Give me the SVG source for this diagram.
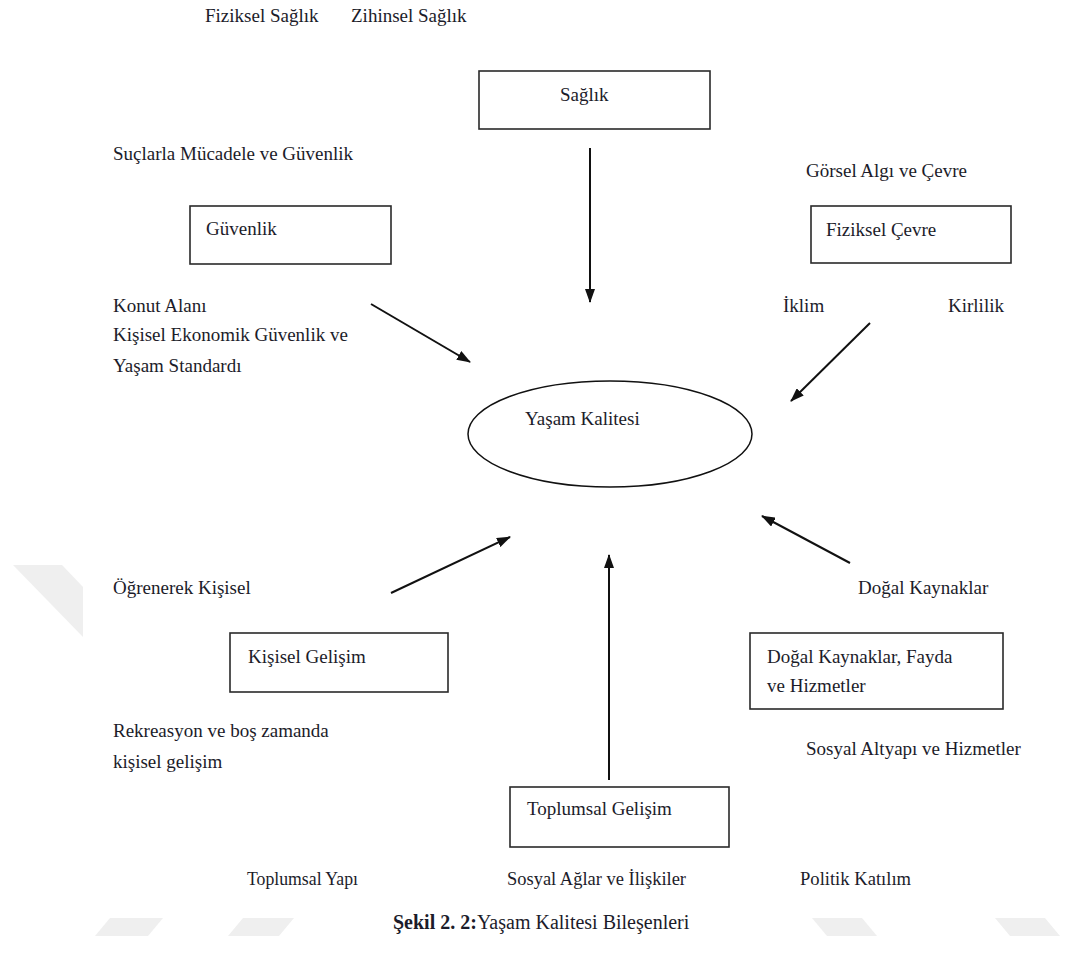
<svg xmlns="http://www.w3.org/2000/svg" width="1078" height="953" viewBox="0 0 1078 953">
<style>
text{font-family:"Liberation Serif","Times New Roman",serif;font-size:19px;fill:#1c1c2a}
.box{fill:#fff;stroke:#2a2a2a;stroke-width:1.6}
.wm{fill:#efefef}
.arr{stroke:#111;stroke-width:2;fill:none;marker-end:url(#ah)}
.cap{font-size:20px}
</style>
<defs>
<marker id="ah" viewBox="0 0 14 10" refX="13" refY="5" markerWidth="14" markerHeight="10" markerUnits="userSpaceOnUse" orient="auto">
<path d="M0,0 L14,5 L0,10 Z" fill="#111"/>
</marker>
</defs>
<rect width="1078" height="953" fill="#fff"/>
<g id="watermark">
<polygon class="wm" points="13,565 62,565 83,587 83,637"/>
<polygon class="wm" points="95,936 110,918 163,918 148,936"/>
<polygon class="wm" points="228,936 243,918 294,918 279,936"/>
<polygon class="wm" points="812,918 862,918 877,936 827,936"/>
<polygon class="wm" points="995,918 1045,918 1060,936 1010,936"/>
</g>
<g id="labels">
<text x="205" y="22">Fiziksel Sağlık</text>
<text x="351" y="22">Zihinsel Sağlık</text>
<text x="113" y="160">Suçlarla Mücadele ve Güvenlik</text>
<text x="806" y="177">Görsel Algı ve Çevre</text>
<text x="113" y="312">Konut Alanı</text>
<text x="783" y="312">İklim</text>
<text x="948" y="312">Kirlilik</text>
<text x="113" y="341">Kişisel Ekonomik Güvenlik ve</text>
<text x="113" y="372">Yaşam Standardı</text>
<text x="113" y="594">Öğrenerek Kişisel</text>
<text x="858" y="594">Doğal Kaynaklar</text>
<text x="113" y="737">Rekreasyon ve boş zamanda</text>
<text x="113" y="768">kişisel gelişim</text>
<text x="806" y="755">Sosyal Altyapı ve Hizmetler</text>
<text x="247" y="885" textLength="111" lengthAdjust="spacingAndGlyphs">Toplumsal Yapı</text>
<text x="507" y="885" textLength="179" lengthAdjust="spacingAndGlyphs">Sosyal Ağlar ve İlişkiler</text>
<text x="800" y="885" textLength="111" lengthAdjust="spacingAndGlyphs">Politik Katılım</text>
</g>
<g id="saglik">
<rect class="box" x="479" y="71" width="231" height="58"/>
<text x="560" y="101">Sağlık</text>
</g>
<g id="guvenlik">
<rect class="box" x="190" y="206" width="201" height="58"/>
<text x="206" y="235">Güvenlik</text>
</g>
<g id="fiziksel-cevre">
<rect class="box" x="811" y="206" width="200" height="57"/>
<text x="826" y="236">Fiziksel Çevre</text>
</g>
<g id="yasam-kalitesi">
<ellipse cx="610" cy="434" rx="142" ry="53" fill="#fff" stroke="#111" stroke-width="1.5"/>
<text x="525" y="425">Yaşam Kalitesi</text>
</g>
<g id="kisisel-gelisim">
<rect class="box" x="230" y="633" width="218" height="59"/>
<text x="248" y="663">Kişisel Gelişim</text>
</g>
<g id="dogal-kaynaklar">
<rect class="box" x="750" y="633" width="253" height="76"/>
<text x="767" y="663">Doğal Kaynaklar, Fayda</text>
<text x="767" y="692">ve Hizmetler</text>
</g>
<g id="toplumsal-gelisim">
<rect class="box" x="510" y="787" width="219" height="60"/>
<text x="527" y="815">Toplumsal Gelişim</text>
</g>
<g id="connectors">
<line class="arr" x1="590" y1="148" x2="590" y2="302"/>
<line class="arr" x1="371" y1="304" x2="470" y2="362"/>
<line class="arr" x1="870" y1="323" x2="791" y2="401"/>
<line class="arr" x1="850" y1="563" x2="762" y2="516"/>
<line class="arr" x1="609" y1="780" x2="609" y2="555"/>
<line class="arr" x1="391" y1="593" x2="510" y2="537"/>
</g>
<g id="caption">
<text class="cap" x="393" y="929"><tspan font-weight="bold">Şekil 2. 2:</tspan>Yaşam Kalitesi Bileşenleri</text>
</g>
</svg>
